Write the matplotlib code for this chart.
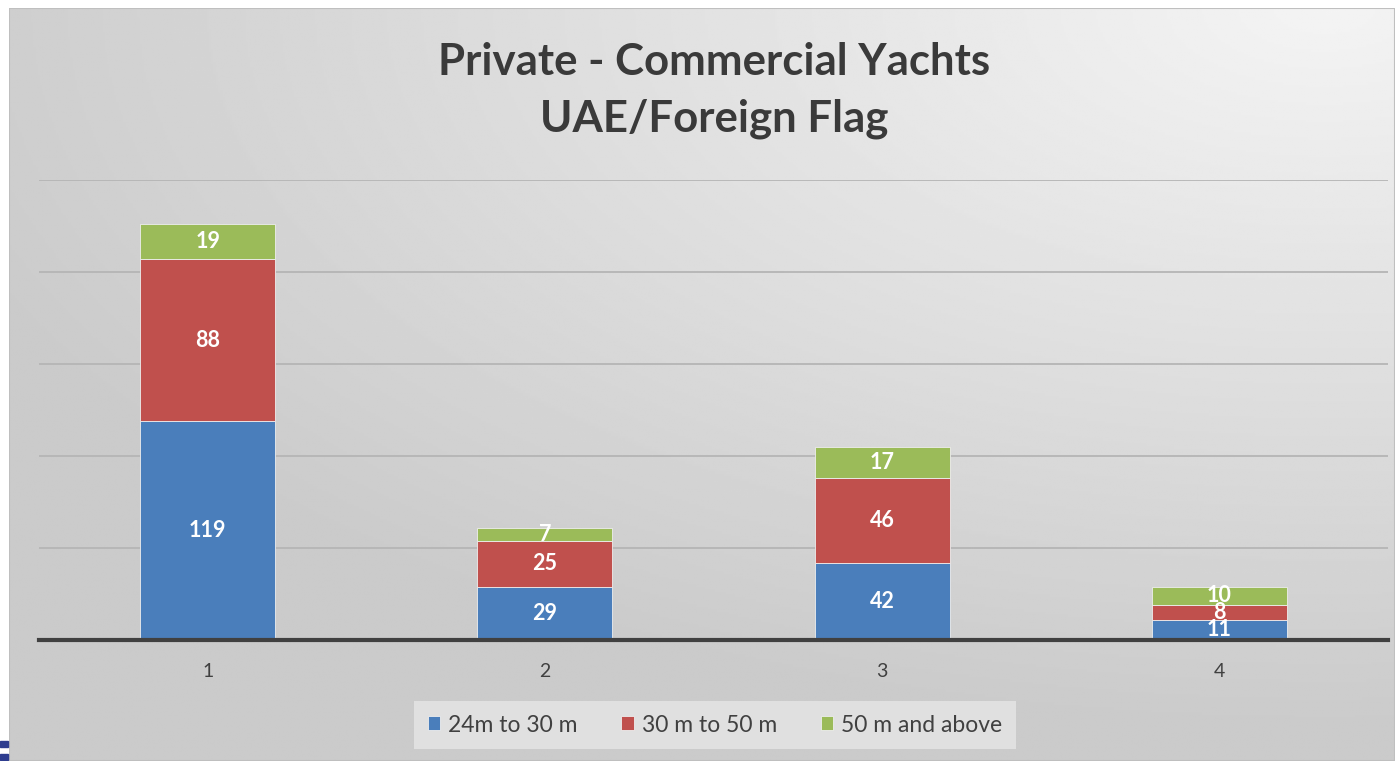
import numpy as np
import matplotlib.pyplot as plt
from matplotlib.patches import Rectangle

# data
categories = ['1', '2', '3', '4']
size_24_30 = [119, 29, 42, 11]
size_30_50 = [88, 25, 46, 8]
size_50_up = [19, 7, 17, 10]
series_names = ['24m to 30 m', '30 m to 50 m', '50 m and above']
colors = ['#4a7ebb', '#c0504d', '#9bbb59']

plt.rcParams['font.family'] = ['Lato', 'DejaVu Sans']

W, H = 1395, 761
fig = plt.figure(figsize=(W / 100, H / 100), dpi=100)
fig.patch.set_facecolor('white')

# gradient background of the chart area
bg = fig.add_axes([9 / W, 0, 1 - 9 / W, 1 - 8 / H])
bg.set_axis_off()
yy, xx = np.mgrid[0:1:300j, 0:1:600j]
d = np.sqrt(((xx - 0.95) * 1.0) ** 2 + ((yy - 0.0) * 1.1) ** 2)
shade = 0.955 - 0.16 * np.clip(d / 1.05, 0, 1)
bg.imshow(shade, cmap='gray', vmin=0, vmax=1, aspect='auto', extent=(0, 1, 1, 0))
bg.add_patch(Rectangle((0, 0), 1, 1, transform=bg.transAxes, fill=False,
                       edgecolor='#bfbfbf', lw=1.5))

# small logo fragment at the far left
fig.patches.append(Rectangle((0, 14 / H), 8 / W, 6 / H, transform=fig.transFigure,
                             color='#2e3d8f'))
fig.patches.append(Rectangle((0, 1 / H), 8 / W, 6 / H, transform=fig.transFigure,
                             color='#2e3d8f'))

# main axes: baseline at y=640px, value 250 at y=180px
ax = fig.add_axes([39 / W, (H - 640) / H, (1388 - 39) / W, (640 - 180) / H])
ax.patch.set_alpha(0)
x = np.arange(1, len(categories) + 1)
bottom = np.zeros(len(categories))
for vals, name, c in zip([size_24_30, size_30_50, size_50_up], series_names, colors):
    bars = ax.bar(x, vals, width=0.4, bottom=bottom, color=c, label=name,
                  edgecolor='#eeeeee', linewidth=0.6, zorder=3)
    for xi, v, b in zip(x, vals, bottom):
        ax.text(xi, b + v / 2, str(v), ha='center', va='center', color='white',
                fontsize=15.5, fontweight='bold', zorder=4)
    bottom = bottom + np.array(vals)

ax.set_xlim(0.5, 4.5)
ax.set_ylim(0, 250)
ax.set_yticks([50, 100, 150, 200, 250])
ax.yaxis.grid(True, color='#b5b5b5', lw=1.3, zorder=0)
ax.tick_params(axis='y', left=False, labelleft=False)
ax.tick_params(axis='x', bottom=False, labelsize=14, labelcolor='#404040', pad=13)
ax.set_xticks(x)
ax.set_xticklabels(categories)
for s in ['top', 'right', 'left']:
    ax.spines[s].set_visible(False)
ax.spines['bottom'].set_color('#404040')
ax.spines['bottom'].set_linewidth(3)
ax.spines['bottom'].set_zorder(5)

fig.text(714 / W, 1 - 62 / H, 'Private - Commercial Yachts', ha='center', va='center',
         fontsize=31.5, fontweight='bold', color='#3a3a3a')
fig.text(714 / W, 1 - 119 / H, 'UAE/Foreign Flag', ha='center', va='center',
         fontsize=31.5, fontweight='bold', color='#3a3a3a')

leg = fig.legend(loc='center', bbox_to_anchor=(715 / W, 1 - 725 / H), ncol=3,
                 frameon=True, fancybox=False, fontsize=16.5, handlelength=0.55,
                 handleheight=0.55, columnspacing=1.9, handletextpad=0.35,
                 borderpad=0.6, labelcolor='#404040')
leg.get_frame().set_facecolor('#e6e6e6')
leg.get_frame().set_edgecolor('none')

fig.savefig('out.png', dpi=100)
